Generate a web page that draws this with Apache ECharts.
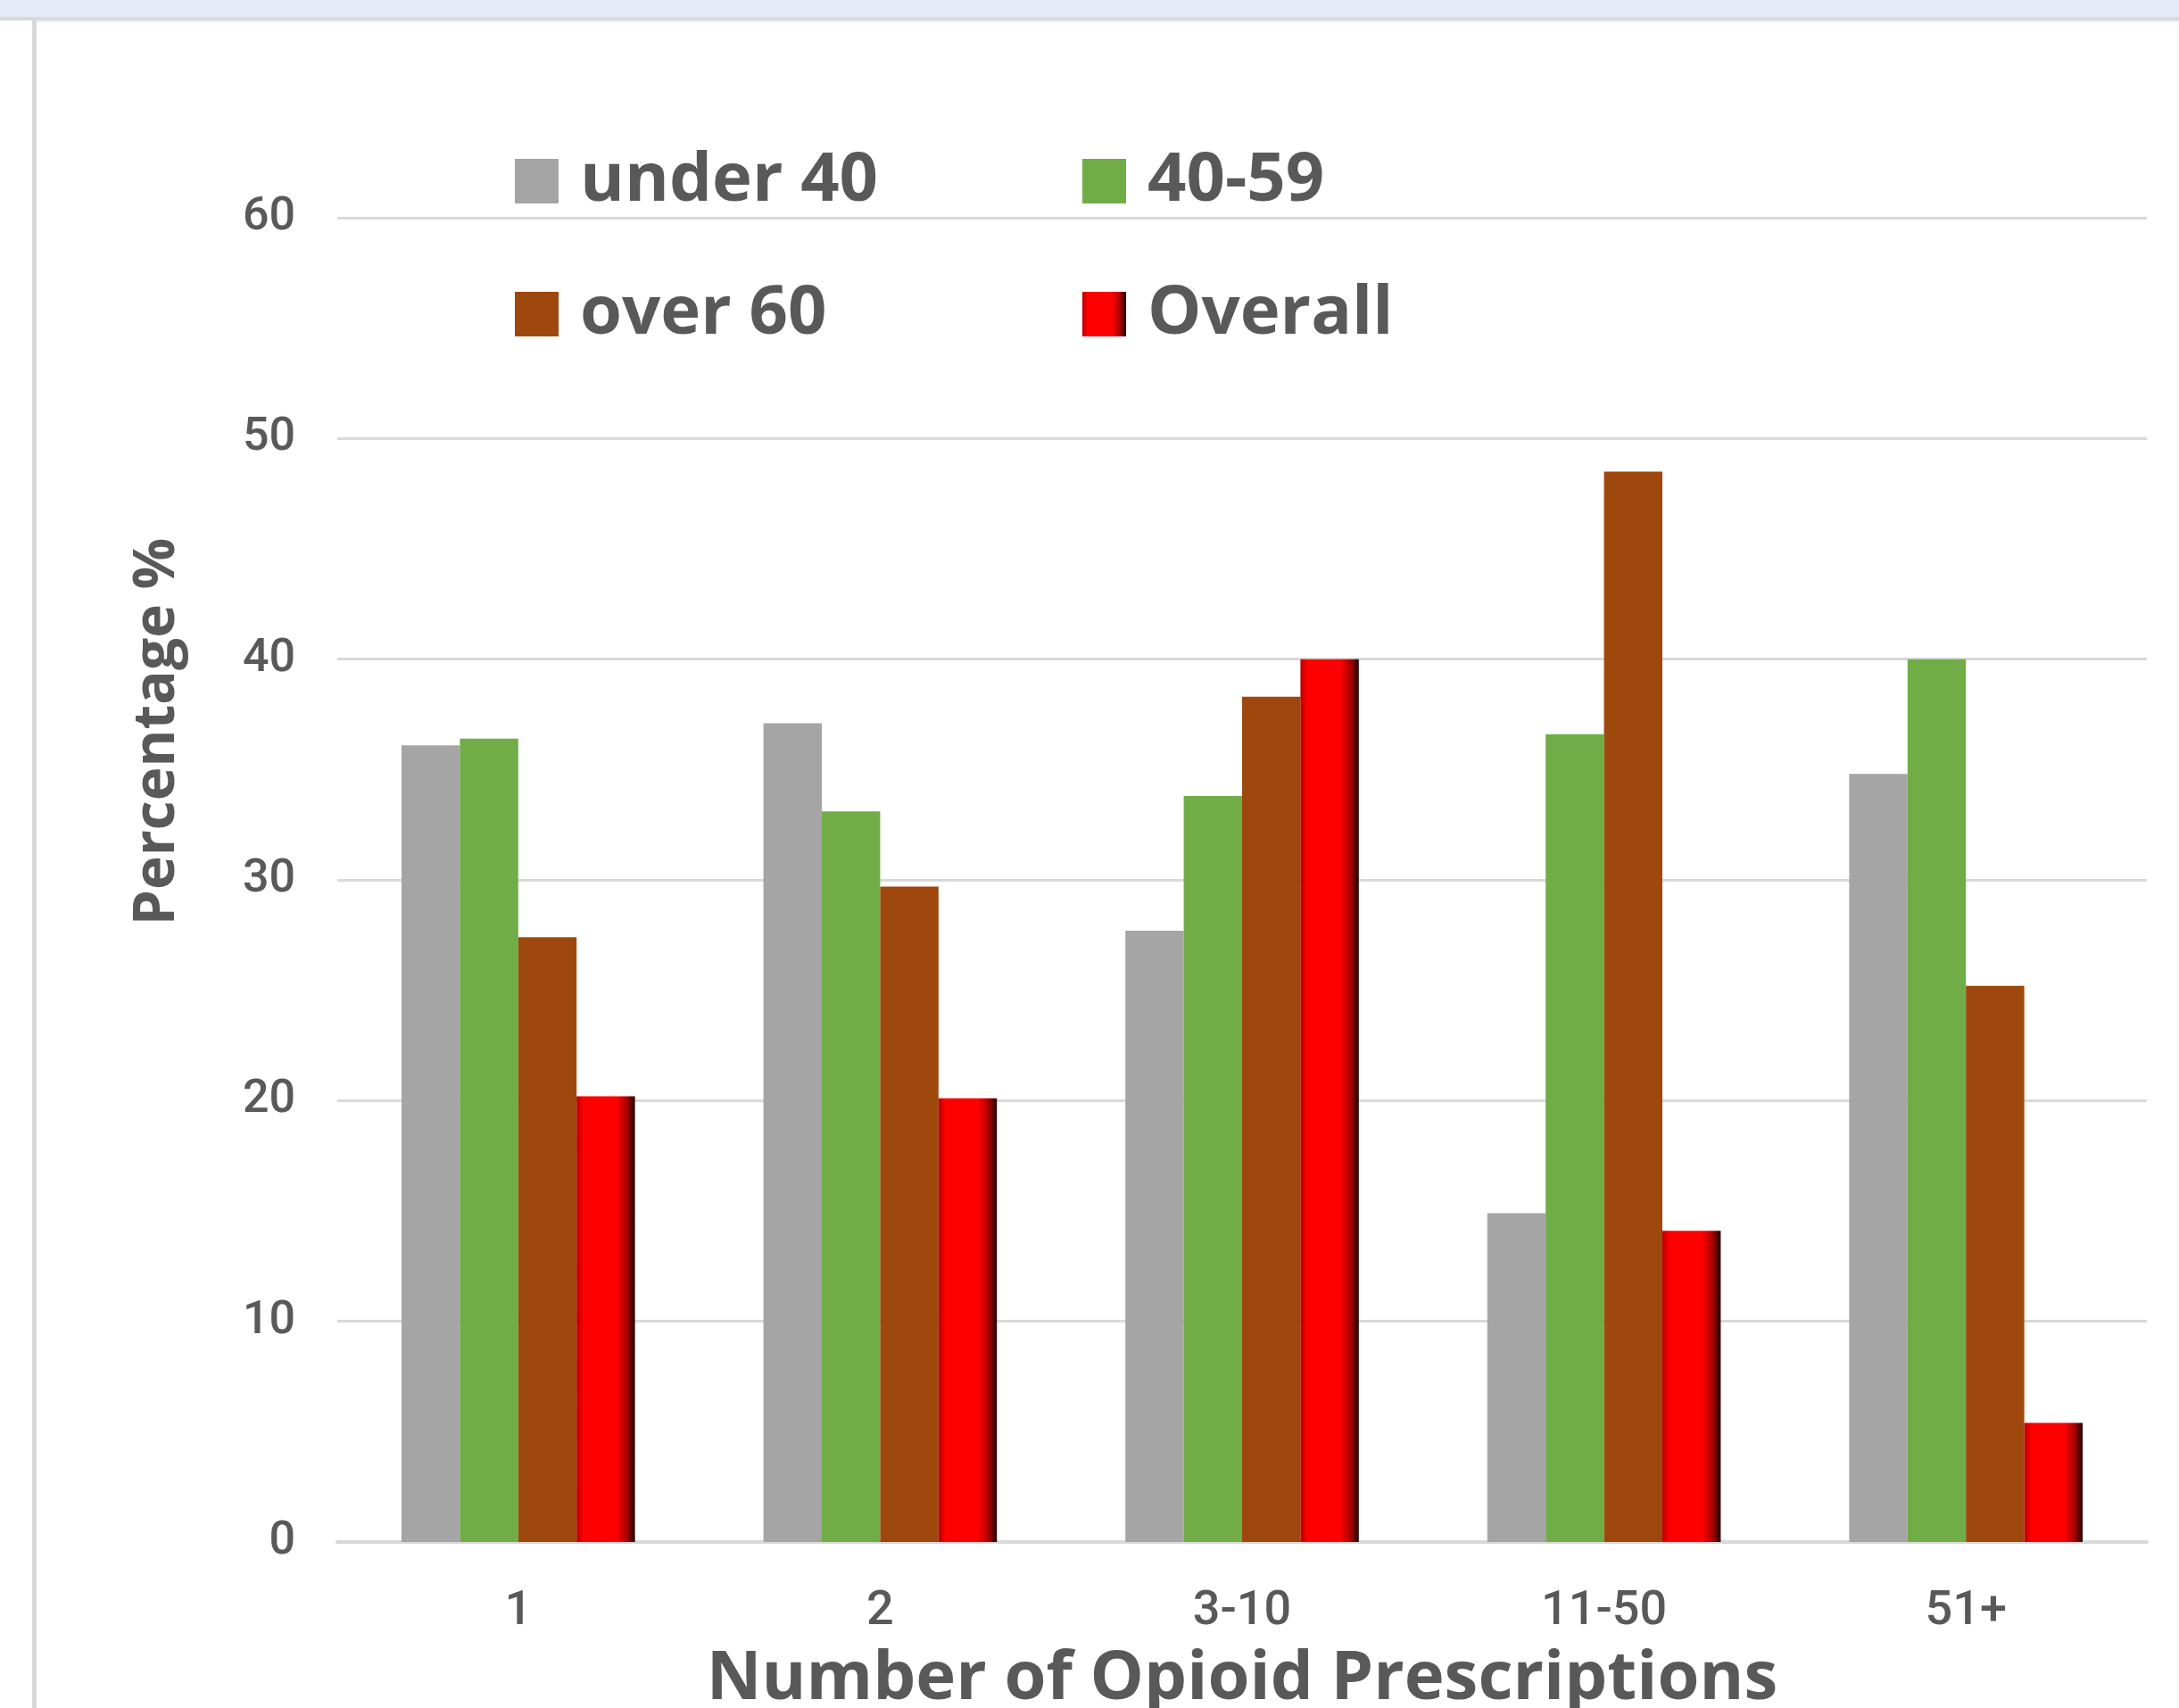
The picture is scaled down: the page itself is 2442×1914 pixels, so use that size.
<!DOCTYPE html>
<html>
<head>
<meta charset="utf-8">
<title>Opioid prescriptions by age group</title>
<script src="https://cdn.jsdelivr.net/npm/echarts@6/dist/echarts.min.js"></script>
<style>
  html, body { margin: 0; padding: 0; background: #ffffff; }
  body { width: 2442px; height: 1914px; position: relative; overflow: hidden; }
  .band { position: absolute; left: 0; top: 0; width: 2442px; height: 19px; background: #e4eaf6; }
  .rule { position: absolute; left: 0; top: 19px; width: 2442px; height: 4px; background: #d9d9d9; }
  .edge { position: absolute; left: 36px; top: 19px; width: 5px; height: 1895px; background: #d9d9d9; }
  .inner { position: absolute; left: 41px; top: 23px; width: 2401px; height: 2px; background: #f0f0f0; }
  #chart { position: absolute; left: 0; top: 0; width: 2442px; height: 1914px; }
</style>
</head>
<body>
<div class="band"></div>
<div class="rule"></div>
<div class="edge"></div>
<div class="inner"></div>
<div id="chart"></div>
<script>
// Share of patients (%) by number of opioid prescriptions, split by age group
const categories = ['1', '2', '3-10', '11-50', '51+'];
const under40 = [36.1, 37.1, 27.7, 14.9, 34.8];
const age40to59 = [36.4, 33.1, 33.8, 36.6, 40.0];
const over60 = [27.4, 29.7, 38.3, 48.5, 25.2];
const overall = [20.2, 20.1, 40.0, 14.1, 5.4];
const yTicks = [0, 10, 20, 30, 40, 50, 60];

const textGray = '#595959';
const tickFont = 'Roboto, "Liberation Sans", sans-serif';
const heavy = '"Open Sans", "Noto Sans", sans-serif';

// bevelled red fill for the Overall series
const overallFill = new echarts.graphic.LinearGradient(0, 0, 1, 0, [
  { offset: 0, color: '#b80000' },
  { offset: 0.12, color: '#ff0000' },
  { offset: 0.68, color: '#ff0000' },
  { offset: 0.86, color: '#a80000' },
  { offset: 1, color: '#1e0000' }
]);

function legendAt(name, left, top) {
  return {
    data: [name],
    left: left,
    top: top,
    icon: 'rect',
    itemWidth: 49,
    itemHeight: 50,
    textStyle: {
      color: textGray,
      fontFamily: heavy,
      fontWeight: 'bold',
      fontSize: 76,
      padding: [0, 0, 0, 19]
    }
  };
}

const chart = echarts.init(document.getElementById('chart'), null, { renderer: 'canvas' });

chart.setOption({
  backgroundColor: 'transparent',
  animation: false,
  legend: [
    legendAt('under 40', 572, 160),
    legendAt('40-59', 1208, 160),
    legendAt('over 60', 572, 309),
    legendAt('Overall', 1208, 309)
  ],
  // the axis title runs slightly past the bottom edge, so keep the plot box fixed
  grid: { left: 378, right: 36, top: 244, bottom: 186, containLabel: false, outerBoundsMode: 'none' },
  xAxis: {
    type: 'category',
    data: categories,
    axisLine: { show: true, lineStyle: { color: '#d9d9d9', width: 4 } },
    axisTick: { show: false },
    axisLabel: {
      color: textGray,
      fontFamily: tickFont,
      fontWeight: 500,
      fontSize: 54,
      margin: 51
    },
    name: 'Number of Opioid Prescriptions',
    nameLocation: 'middle',
    nameGap: 116,
    nameMoveOverlap: false,
    nameTextStyle: {
      color: textGray,
      fontFamily: heavy,
      fontWeight: 'bold',
      fontSize: 76
    }
  },
  yAxis: {
    type: 'value',
    min: yTicks[0],
    max: yTicks[yTicks.length - 1],
    interval: yTicks[1] - yTicks[0],
    axisLine: { show: false },
    axisTick: { show: false },
    splitLine: { lineStyle: { color: '#d9d9d9', width: 3 } },
    axisLabel: {
      color: textGray,
      fontFamily: tickFont,
      fontWeight: 500,
      fontSize: 52,
      margin: 47
    }
  },
  graphic: [
    {
      type: 'text',
      x: 177,
      y: 820,
      rotation: Math.PI / 2,
      style: {
        text: 'Percentage %',
        fill: textGray,
        font: 'bold 64px ' + heavy,
        textAlign: 'center',
        textVerticalAlign: 'middle'
      }
    }
  ],
  series: [
    {
      name: 'under 40', type: 'bar', data: under40,
      barGap: '0%', barCategoryGap: '35.5%',
      itemStyle: { color: '#a5a5a5' }
    },
    {
      name: '40-59', type: 'bar', data: age40to59,
      barGap: '0%', barCategoryGap: '35.5%',
      itemStyle: { color: '#70ad47' }
    },
    {
      name: 'over 60', type: 'bar', data: over60,
      barGap: '0%', barCategoryGap: '35.5%',
      itemStyle: { color: '#9e480e' }
    },
    {
      name: 'Overall', type: 'bar', data: overall,
      barGap: '0%', barCategoryGap: '35.5%',
      itemStyle: { color: overallFill }
    }
  ]
});
</script>
</body>
</html>
